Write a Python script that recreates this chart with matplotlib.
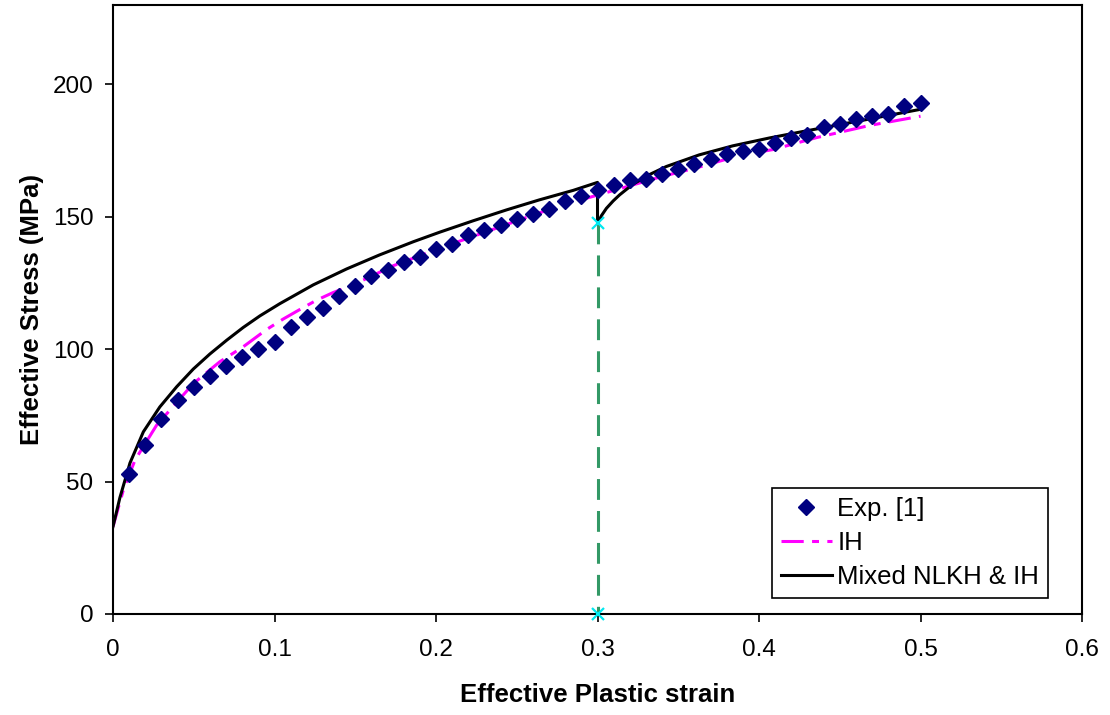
import matplotlib
matplotlib.use("Agg")
import matplotlib.pyplot as plt

plt.rcParams['font.family'] = ['Liberation Sans', 'DejaVu Sans']
plt.rcParams['lines.scale_dashes'] = False

# Experimental data
exp_strain = [0.01, 0.02, 0.03, 0.04, 0.05, 0.06, 0.07, 0.08, 0.09, 0.10,
              0.11, 0.12, 0.13, 0.14, 0.15, 0.16, 0.17, 0.18, 0.19, 0.20,
              0.21, 0.22, 0.23, 0.24, 0.25, 0.26, 0.27, 0.28, 0.29, 0.30,
              0.31, 0.32, 0.33, 0.34, 0.35, 0.36, 0.37, 0.38, 0.39, 0.40,
              0.41, 0.42, 0.43, 0.44, 0.45, 0.46, 0.47, 0.48, 0.49, 0.50]
exp_stress = [52.8, 63.8, 73.7, 80.8, 85.8, 89.8, 93.7, 96.9, 99.9, 102.9,
              108.4, 112.0, 115.7, 120.0, 123.8, 127.7, 129.8, 132.8, 134.8, 138.0,
              139.9, 143.0, 144.9, 146.9, 149.0, 151.2, 153.0, 156.0, 157.7, 160.0,
              162.0, 164.0, 164.3, 166.0, 167.9, 170.0, 171.7, 173.8, 174.8, 175.7,
              177.8, 179.7, 181.0, 183.9, 184.9, 186.8, 188.0, 188.9, 191.8, 193.0]

# Isotropic hardening model
ih_strain = [0.0, 0.0064, 0.0136, 0.027, 0.0497, 0.066, 0.0806, 0.095, 0.1054,
             0.1157, 0.126, 0.1363, 0.1466, 0.157, 0.1734, 0.2044, 0.235, 0.264,
             0.285, 0.30, 0.3137, 0.3385, 0.363, 0.388, 0.4086, 0.4355, 0.4684, 0.50]
ih_stress = [33.0, 46.8, 58.1, 71.3, 87.0, 95.2, 100.9, 107.4, 111.4,
             115.0, 118.5, 121.4, 123.8, 126.7, 131.5, 138.6, 145.2, 151.5,
             155.6, 158.2, 160.6, 165.0, 168.8, 173.2, 175.4, 179.9, 184.5, 188.0]

# Mixed nonlinear kinematic & isotropic hardening model
mix_strain = [0.0, 0.0043, 0.0105, 0.0188, 0.029, 0.0394, 0.0497, 0.06, 0.0704,
              0.0806, 0.091, 0.1033, 0.124, 0.1446, 0.165, 0.186, 0.2023, 0.223,
              0.2436, 0.264, 0.285, 0.30, 0.30, 0.3025, 0.3055, 0.3097, 0.3137,
              0.318, 0.322, 0.3323, 0.3426, 0.363, 0.3837, 0.4066, 0.427, 0.448,
              0.468, 0.50]
mix_stress = [33.0, 44.0, 57.0, 68.8, 78.2, 85.8, 92.5, 98.2, 103.4,
              108.2, 112.6, 117.2, 124.3, 130.3, 135.6, 140.6, 144.2, 148.5,
              152.6, 156.4, 160.0, 163.0, 147.5, 150.5, 153.2, 156.0, 158.3,
              160.4, 162.3, 166.0, 169.0, 173.4, 176.8, 179.8, 182.2, 184.6,
              186.9, 190.6]

# Unloading marker line
unload_strain = [0.30, 0.30]
unload_stress = [147.5, 0.0]

fig = plt.figure(figsize=(11.1, 7.15), dpi=100)
ax = fig.add_axes([0.1018, 0.1413, 0.8730, 0.8517])

ax.plot(unload_strain, unload_stress, color='#339966', lw=2.2,
        linestyle=(0, (15, 8)), zorder=2)
ax.plot(unload_strain, unload_stress, linestyle='none', marker='x',
        color='#00e8f0', ms=8, mew=1.6, zorder=6, clip_on=False)
ax.plot(ih_strain, ih_stress, color='#ff00ff', lw=2.2,
        linestyle=(0, (16, 6, 5, 6)), label='IH', zorder=3)
ax.plot(mix_strain, mix_stress, color='black', lw=2.2,
        label='Mixed NLKH & IH', zorder=4)
ax.plot(exp_strain, exp_stress, linestyle='none', marker='D', ms=8.5,
        color='#000080', mec='#000080', label='Exp. [1]', zorder=5)

ax.set_xlim(0, 0.6)
ax.set_ylim(0, 230)
ax.set_xticks([0, 0.1, 0.2, 0.3, 0.4, 0.5, 0.6])
ax.set_xticklabels(['0', '0.1', '0.2', '0.3', '0.4', '0.5', '0.6'])
ax.set_yticks([0, 50, 100, 150, 200])
ax.tick_params(axis='both', direction='out', length=6, width=1.2,
               labelsize=17.5, colors='black')
ax.tick_params(axis='x', pad=12)
ax.tick_params(axis='y', pad=8)
for s in ax.spines.values():
    s.set_linewidth(1.5)
    s.set_color('black')

ax.set_xlabel('Effective Plastic strain', fontsize=18.5, fontweight='bold', labelpad=16)
ax.set_ylabel('Effective Stress (MPa)', fontsize=18.5, fontweight='bold', labelpad=6)

handles, labels = ax.get_legend_handles_labels()
order = [labels.index('Exp. [1]'), labels.index('IH'), labels.index('Mixed NLKH & IH')]
leg = ax.legend([handles[i] for i in order], [labels[i] for i in order],
                loc='lower right', bbox_to_anchor=(0.965, 0.027),
                fontsize=18.5, frameon=True, fancybox=False, framealpha=1,
                edgecolor='black', borderpad=0.35, handlelength=2.0,
                handletextpad=0.2, labelspacing=0.38, borderaxespad=0)
leg.get_frame().set_linewidth(1.2)

fig.savefig('out.png', dpi=100)
